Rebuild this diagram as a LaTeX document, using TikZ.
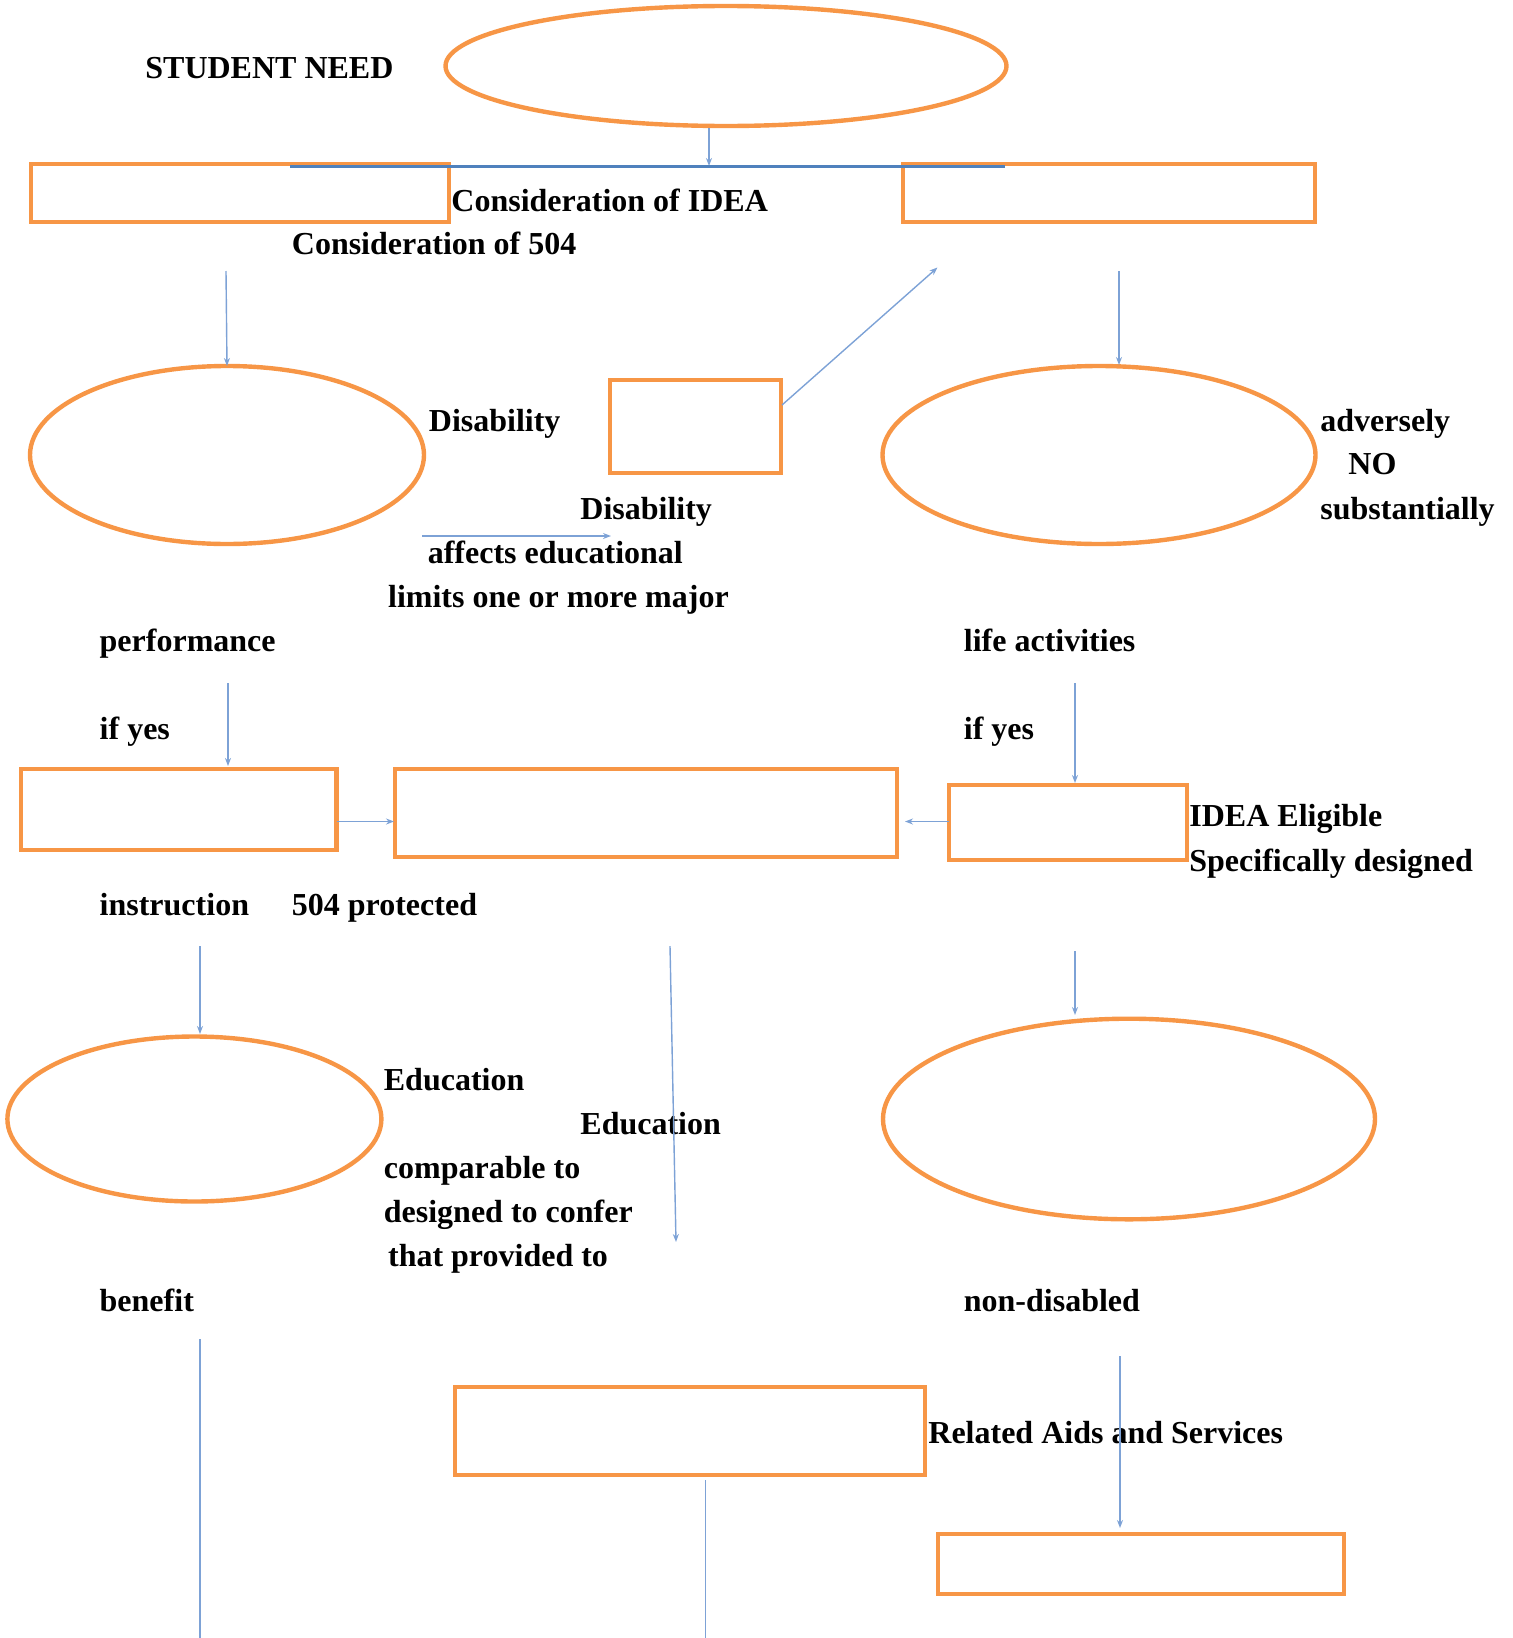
\documentclass[tikz,border=0pt]{standalone}
\usepackage{fontspec}
\setmainfont{Liberation Serif}
\usetikzlibrary{shapes.geometric,arrows.meta}
\definecolor{orangeline}{HTML}{F79646}
\definecolor{blueline}{HTML}{7DA2D6}
\definecolor{bluedark}{HTML}{4F81BD}
\begin{document}
\begin{tikzpicture}[x=0.5pt,y=-0.5pt,
 obox/.style={draw=orangeline,line width=2.2pt,inner sep=0pt,outer sep=0pt,rectangle},
 oell/.style={draw=orangeline,line width=2.2pt,inner sep=0pt,outer sep=0pt,ellipse},
 lbl/.style={anchor=west,inner sep=0pt,text height=11pt,text depth=0pt,font=\bfseries\fontsize{16pt}{19pt}\selectfont},
 conn/.style={draw=blueline,line width=0.7pt,-{Stealth[length=4pt,width=3pt]}},
 plainline/.style={draw=blueline,line width=0.7pt}]
\useasboundingbox (0,0) rectangle (1512,1638);

% shapes
\node[oell,minimum width=280.5pt,minimum height=60pt] (e1) at (726,66) {};
\node[obox,minimum width=209pt,minimum height=28.75pt] (r1) at (240,193) {};
\node[obox,minimum width=206pt,minimum height=28.75pt] (r2) at (1109,193) {};
\node[oell,minimum width=197pt,minimum height=89pt] (e2) at (227,455) {};
\node[obox,minimum width=85.5pt,minimum height=46.5pt] (r3) at (695.5,426.5) {};
\node[oell,minimum width=216.5pt,minimum height=89pt] (e3) at (1099,455) {};
\node[obox,minimum width=157.75pt,minimum height=40.5pt] (r4) at (178.7,809.5) {};
\node[obox,minimum width=251pt,minimum height=44pt] (r5) at (646,813) {};
\node[obox,minimum width=119pt,minimum height=37.5pt] (r6) at (1068,822.5) {};
\node[oell,minimum width=187pt,minimum height=82.5pt] (e4) at (194.4,1119) {};
\node[oell,minimum width=246pt,minimum height=100.3pt] (e5) at (1129,1119) {};
\node[obox,minimum width=235pt,minimum height=44.25pt] (r7) at (690,1431) {};
\node[obox,minimum width=203pt,minimum height=30pt] (r8) at (1141,1564) {};

% labels
\node[lbl] (t1) at (145,67) {STUDENT NEED};
\node[lbl] (t2) at (451,200) {Consideration of IDEA};
\node[lbl] (t3) at (291.5,243.5) {Consideration of 504};
\node[lbl] (t4) at (428.5,420) {Disability};
\node[lbl] (t5) at (580,508) {Disability};
\node[lbl] (t6) at (427.4,552) {affects educational};
\node[lbl] (t7) at (387.7,596) {limits one or more major};
\node[lbl] (t8) at (99.3,640) {performance};
\node[lbl] (t9) at (963.5,640) {life activities};
\node[lbl] (t10) at (1320,420) {adversely};
\node[lbl] (t11) at (1348,463) {NO};
\node[lbl] (t12) at (1320,508) {substantially};
\node[lbl] (t13) at (99.3,728.5) {if yes};
\node[lbl] (t14) at (963.5,728.5) {if yes};
\node[lbl] (t15) at (1189,815) {IDEA Eligible};
\node[lbl] (t16) at (1189,860) {Specifically designed};
\node[lbl] (t17) at (99.3,904) {instruction};
\node[lbl] (t18) at (291.5,904) {504 protected};
\node[lbl] (t19) at (383.5,1079.5) {Education};
\node[lbl] (t20) at (580,1123.5) {Education};
\node[lbl] (t21) at (383.5,1167.5) {comparable to};
\node[lbl] (t22) at (383.5,1211.5) {designed to confer};
\node[lbl] (t23) at (387.7,1255) {that provided to};
\node[lbl] (t24) at (99.3,1300) {benefit};
\node[lbl] (t25) at (963.5,1300) {non-disabled};
\node[lbl] (t26) at (928,1432) {Related Aids and Services};

% connector end points
\coordinate (a1s) at (709,128);
\coordinate (a1e) at (709,166);
\coordinate (h1) at (290,166.5);
\coordinate (h2) at (1005,166.5);
\coordinate (a2s) at (226,271);
\coordinate (a3s) at (1119,271);
\coordinate (a3e) at (1119,365);
\coordinate (a4s) at (782,405);
\coordinate (a4e) at (937.5,267.5);
\coordinate (a5s) at (422,536);
\coordinate (a5e) at (611,536);
\coordinate (a6s) at (228,683);
\coordinate (a6e) at (228,766);
\coordinate (a7s) at (1075,683);
\coordinate (a7e) at (1075,783);
\coordinate (a8s) at (336.5,821.5);
\coordinate (a8e) at (394,821.5);
\coordinate (a9s) at (949,821.5);
\coordinate (a9e) at (905,821.5);
\coordinate (a10s) at (200,946);
\coordinate (a10e) at (200,1034);
\coordinate (a11s) at (670,946);
\coordinate (a11e) at (676,1242);
\coordinate (a12s) at (1075,951);
\coordinate (a12e) at (1075,1015);
\coordinate (a13s) at (200,1339);
\coordinate (a13e) at (200,1638);
\coordinate (a14s) at (1120,1356);
\coordinate (a14e) at (1120,1528);
\coordinate (a15s) at (705.5,1480);
\coordinate (a15e) at (705.5,1638);

% connectors
\draw[conn] (a1s) -- (a1e);
\draw[bluedark,line width=1.2pt] (h1) -- (h2);
\draw[conn] (a2s) -- (e2.north);
\draw[conn] (a3s) -- (a3e);
\draw[conn] (a4s) -- (a4e);
\draw[conn] (a5s) -- (a5e);
\draw[conn] (a6s) -- (a6e);
\draw[conn] (a7s) -- (a7e);
\draw[conn] (a8s) -- (a8e);
\draw[conn] (a9s) -- (a9e);
\draw[conn] (a10s) -- (a10e);
\draw[conn] (a11s) -- (a11e);
\draw[conn] (a12s) -- (a12e);
\draw[plainline] (a13s) -- (a13e);
\draw[conn] (a14s) -- (a14e);
\draw[plainline] (a15s) -- (a15e);
\end{tikzpicture}
\end{document}
